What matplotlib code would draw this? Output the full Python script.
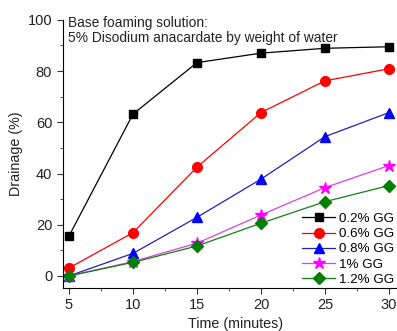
import matplotlib.pyplot as plt
from matplotlib.ticker import MultipleLocator

# data
time = [5, 10, 15, 20, 25, 30]
gg02 = [15.6, 63.2, 83.3, 87.0, 88.9, 89.5]
gg06 = [3.1, 16.9, 42.5, 63.8, 76.2, 80.9]
gg08 = [0.0, 8.8, 22.9, 37.8, 54.4, 63.8]
gg10 = [0.0, 5.6, 12.8, 23.8, 34.5, 43.1]
gg12 = [0.0, 5.3, 11.7, 20.6, 29.0, 35.3]

labels = ['0.2% GG', '0.6% GG', '0.8% GG', '1% GG', '1.2% GG']

plt.rcParams['font.family'] = 'Liberation Sans'

fig = plt.figure(figsize=(3.97, 3.31), dpi=100)
ax = fig.add_axes([0.1577, 0.130, 0.8705, 0.810])

ax.plot(time, gg02, color='black', marker='s', ms=6, lw=0.9, label=labels[0])
ax.plot(time, gg06, color='red', mec='red', marker='o', ms=7, lw=0.9, label=labels[1])
ax.plot(time, gg08, color='#2020c0', mfc='blue', mec='blue', marker='^', ms=7.5, lw=0.9, label=labels[2])
ax.plot(time, gg10, color='#e040e0', mfc='magenta', mec='magenta', marker='*', ms=9, lw=0.9, label=labels[3])
ax.plot(time, gg12, color='#108010', mfc='green', mec='green', marker='D', ms=6, lw=0.9, label=labels[4])

ax.set_xlim(4.5, 31.5)
ax.set_ylim(-4.7, 100)
ax.xaxis.set_major_locator(MultipleLocator(5))
ax.xaxis.set_minor_locator(MultipleLocator(2.5))
ax.yaxis.set_major_locator(MultipleLocator(20))
ax.yaxis.set_minor_locator(MultipleLocator(10))
ax.tick_params(which='both', direction='out', labelsize=10.5, color='#333333',
               labelcolor='#222222')
ax.tick_params(which='major', length=4)
ax.tick_params(which='minor', length=2.5)
for s in ['top', 'right']:
    ax.spines[s].set_visible(False)

ax.set_xlabel('Time (minutes)', fontsize=10.3, labelpad=3, color='#222222')
ax.set_ylabel('Drainage (%)', fontsize=10.3, labelpad=3, color='#222222')

ax.text(0.017, 1.015, 'Base foaming solution:\n5% Disodium anacardate by weight of water',
        transform=ax.transAxes, fontsize=9.9, va='top', ha='left', linespacing=1.1,
        color='#222222')

ax.legend(loc='lower left', bbox_to_anchor=(302 / 397, 45 / 331),
          bbox_transform=fig.transFigure, frameon=False, fontsize=9.6,
          handlelength=2.5, handletextpad=0.3, labelspacing=0.22,
          borderpad=0, borderaxespad=0)

fig.savefig('out.png', dpi=100)
